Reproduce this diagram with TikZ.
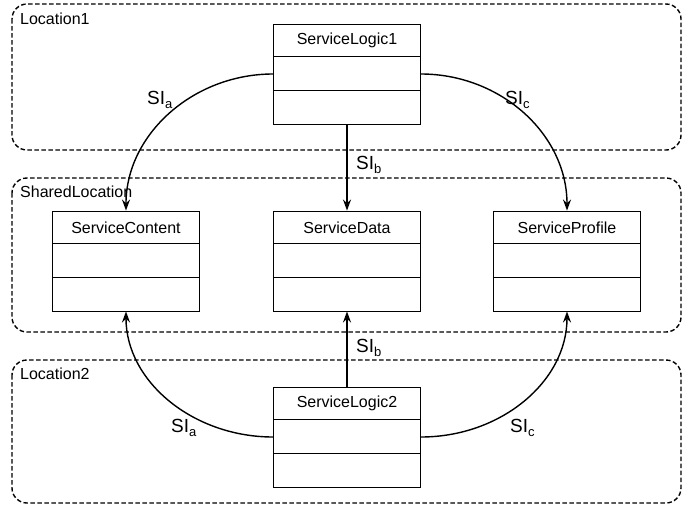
\documentclass[tikz,border=0pt]{standalone}
\usepackage{fontspec}
\setmainfont{Liberation Sans}
\usetikzlibrary{arrows.meta}
\tikzset{
  region/.style={draw, line width=1.4pt, dash pattern=on 4.5pt off 2.5pt, rounded corners=15pt},
  regionlabel/.style={anchor=west, font=\fontsize{16}{18}\selectfont, inner sep=0pt},
  classbox/.style={draw, line width=0.9pt, minimum width=147pt, minimum height=100pt, inner sep=0pt},
  classname/.style={font=\fontsize{16}{18}\selectfont, inner sep=0pt},
  iface/.style={line width=1.4pt, -{Stealth[length=11pt, width=8pt]}},
  silabel/.style={font=\fontsize{19}{22}\selectfont, inner sep=0pt}
}
% subscript for interface labels
\newcommand{\ifsub}[1]{\raisebox{-4.5pt}{\fontsize{13}{14}\selectfont #1}}
\newcommand{\umlclass}[3]{%
  \node[classbox] (#1) at (#2) {};
  \node[classname] (#1t) at ([yshift=-17pt]#1.north) {#3};
  \draw[line width=0.9pt] ([yshift=-33pt]#1.north west) -- ([yshift=-33pt]#1.north east);
  \draw[line width=0.9pt] ([yshift=-67pt]#1.north west) -- ([yshift=-67pt]#1.north east);
}
\begin{document}
\begin{tikzpicture}[x=1pt, y=-1pt]
\useasboundingbox (0,0) rectangle (686,507);

% deployment regions
\draw[region] (12,4) rectangle (681,150);
\draw[region] (12,178) rectangle (681,332);
\draw[region] (12,360) rectangle (681,503);
\node[regionlabel] (l1) at (20,19) {Location1};
\node[regionlabel] (ls) at (20,192) {SharedLocation};
\node[regionlabel] (l2) at (20,374) {Location2};

% classes
\umlclass{sl1}{347,74}{ServiceLogic1}
\umlclass{sc}{126,261}{ServiceContent}
\umlclass{sd}{347,261}{ServiceData}
\umlclass{sp}{567,261}{ServiceProfile}
\umlclass{sl2}{347,437}{ServiceLogic2}

% interfaces from ServiceLogic1
\draw[iface] (sl1.west) .. controls +(-80,0) and +(0,-76) .. (sc.north);
\draw[iface] (sl1.south) -- (sd.north);
\draw[iface] (sl1.east) .. controls +(80,0) and +(0,-76) .. (sp.north);

% interfaces from ServiceLogic2
\draw[iface] (sl2.west) .. controls +(-80,0) and +(0,70) .. (sc.south);
\draw[iface] (sl2.north) -- (sd.south);
\draw[iface] (sl2.east) .. controls +(80,0) and +(0,70) .. (sp.south);

% interface labels
\node[silabel, anchor=base west] (sia1) at (147,104) {SI\ifsub{a}};
\node[silabel, anchor=base west] (sib1) at (356,169) {SI\ifsub{b}};
\node[silabel, anchor=base west] (sic1) at (505,104) {SI\ifsub{c}};
\node[silabel, anchor=base west] (sia2) at (171,432) {SI\ifsub{a}};
\node[silabel, anchor=base west] (sib2) at (356,352) {SI\ifsub{b}};
\node[silabel, anchor=base west] (sic2) at (510,432) {SI\ifsub{c}};
\end{tikzpicture}
\end{document}
